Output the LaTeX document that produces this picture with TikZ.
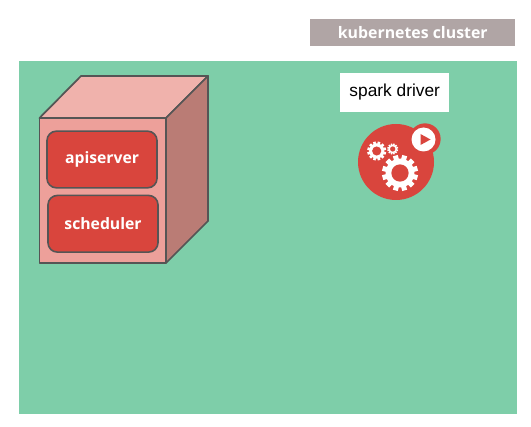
\documentclass[tikz,border=0pt]{standalone}
\usepackage{fontspec}
\setmainfont{Open Sans}
\newfontfamily\driverfont{Liberation Sans}
\usepackage{xcolor}
\usetikzlibrary{positioning}

\definecolor{clustergreen}{HTML}{7ECEA9}
\definecolor{titlegrey}{HTML}{B0A5A5}
\definecolor{redfill}{HTML}{D9453D}
\definecolor{edgegrey}{HTML}{555555}
\definecolor{cubefront}{HTML}{EDA09A}
\definecolor{cubetop}{HTML}{F0B2AC}
\definecolor{cubeside}{HTML}{BA7C75}

\begin{document}
\begin{tikzpicture}[
        x=0.75pt, y=-0.75pt,
        node distance=4.5pt,
        title/.style={rectangle, fill=titlegrey, text=white, font=\bfseries\fontsize{11.9}{14}\selectfont, minimum width=153.5pt, minimum height=20.5pt, inner sep=0pt},
        driver/.style={rectangle, fill=white, font=\driverfont\fontsize{13}{15}\selectfont, minimum width=82pt, minimum height=29pt, inner sep=0pt},
        master/.style={rectangle, rounded corners=7pt, draw=edgegrey, line width=1.2pt, fill=redfill, text=white, font=\bfseries\fontsize{11.8}{14}\selectfont, minimum width=82.5pt, minimum height=42.5pt, inner sep=0pt},
        cubeface/.style={draw=edgegrey, line width=1.3pt, line join=round},
        gear/.pic={
            \foreach \a in {0,30,...,330}
                \fill[white, rotate=\a+15] (0.7,-0.14) rectangle (1,0.14);
            \fill[white] (0,0) circle (0.8);
            \fill[redfill] (0,0) circle (0.48);
        },
    ]
        \useasboundingbox (0,0) rectangle (531,427);

        % Cluster
        \fill[clustergreen] (19,61) rectangle (517,414);
        \node[title] (clustertitle) at (412.75,32.75) {kubernetes cluster};

        % Cube
        \coordinate (fronttl) at (39.5,118);
        \coordinate (fronttr) at (166,118);
        \coordinate (frontbl) at (39.5,263);
        \coordinate (frontbr) at (166,263);
        \coordinate (backtl) at (81,76);
        \coordinate (backtr) at (208,76);
        \coordinate (backbr) at (208,221);
        \draw[cubeface, fill=cubetop] (fronttl) -- (backtl) -- (backtr) -- (fronttr) -- cycle;
        \draw[cubeface, fill=cubeside] (fronttr) -- (backtr) -- (backbr) -- (frontbr) -- cycle;
        \draw[cubeface, fill=cubefront] (fronttl) -- (fronttr) -- (frontbr) -- (frontbl) -- cycle;

        % Master components
        \node[master] (apiserver) at (102,159.5) {apiserver};
        \node[master, below=of apiserver, xshift=0.75pt] (scheduler) {scheduler};

        % Driver
        \node[driver] (sparkdriver) at (394.75,92.25) {spark driver};
        \node[circle, fill=redfill, minimum size=57pt, inner sep=0pt] (driverpod) at (396,162) {};
        \node[circle, fill=redfill, minimum size=23.5pt, inner sep=0pt] (playring) at (425,139) {};
        \node[circle, fill=white, minimum size=18pt, inner sep=0pt] (playdisc) at (423.5,139.5) {};
        \fill[redfill] (420.5,134) -- (430.5,139.5) -- (420.5,145) -- cycle;

        % Gears
        \pic[scale=18] at (400,173) {gear};
        \pic[scale=9.5] at (376.7,151) {gear};
        \pic[scale=5.5] at (392.7,149) {gear};
    \end{tikzpicture}
\end{document}
